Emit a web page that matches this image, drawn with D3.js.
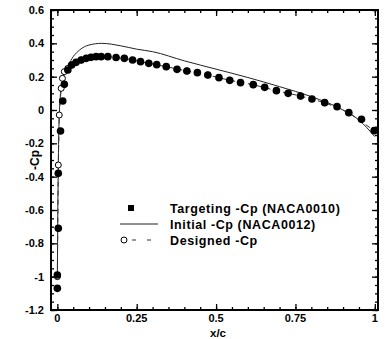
<!DOCTYPE html>
<html>
<head>
<meta charset="utf-8">
<script src="https://cdn.jsdelivr.net/npm/d3@7"></script>
<style>
  body { margin: 0; background: #fff; }
  text { font-family: "Liberation Sans", Arial, sans-serif; font-weight: bold; fill: #000; }
</style>
</head>
<body>
<div id="chart"></div>
<script>
'use strict'

// Targeting -Cp (NACA0010)
const targetX = [0.0, 0.0, 0.003, 0.003, 0.01, 0.017, 0.022, 0.033, 0.045, 0.059, 0.075, 0.091, 0.106, 0.122,
  0.138, 0.159, 0.185, 0.211, 0.237, 0.262, 0.288, 0.313, 0.343, 0.377, 0.408, 0.441, 0.474, 0.509, 0.543, 0.577,
  0.617, 0.653, 0.690, 0.727, 0.766, 0.802, 0.842, 0.881, 0.918, 0.958, 0.998];
const targetCp = [-1.07, -0.99, -0.71, -0.38, -0.126, 0.054, 0.154, 0.24, 0.27, 0.286, 0.30, 0.31, 0.316, 0.32,
  0.32, 0.32, 0.315, 0.31, 0.30, 0.29, 0.28, 0.272, 0.26, 0.244, 0.234, 0.224, 0.21, 0.194, 0.178, 0.164,
  0.152, 0.136, 0.116, 0.10, 0.084, 0.066, 0.044, 0.02, -0.016, -0.056, -0.124];

// Initial -Cp (NACA0012)
const initX = [0.0, 0.002, 0.005, 0.01, 0.02, 0.035, 0.05, 0.07, 0.1, 0.14, 0.2, 0.25, 0.3, 0.4, 0.5, 0.6, 0.7, 0.8, 0.9, 0.95, 1.0];
const initCp = [-1.0, -0.5, -0.1, 0.1, 0.2, 0.27, 0.32, 0.36, 0.39, 0.40, 0.385, 0.365, 0.35, 0.295, 0.245, 0.195, 0.14, 0.08, 0.0, -0.06, -0.16];

// Designed -Cp
const designX = [0.0, 0.003, 0.006, 0.012, 0.016, 0.022, 0.033, 0.045, 0.059, 0.075, 0.091, 0.122, 0.159, 0.211,
  0.288, 0.343, 0.408, 0.474, 0.543, 0.617, 0.690, 0.766, 0.842, 0.918, 0.998];
const designCp = [-1.0, -0.33, -0.03, 0.13, 0.19, 0.23, 0.25, 0.27, 0.286, 0.30, 0.31, 0.32, 0.32, 0.31,
  0.28, 0.26, 0.234, 0.21, 0.178, 0.152, 0.116, 0.084, 0.044, -0.016, -0.124];

const xTicks = [0, 0.25, 0.5, 0.75, 1];
const xTickLabels = ['0', '0.25', '0.5', '0.75', '1'];
const yTicks = [0.6, 0.4, 0.2, 0, -0.2, -0.4, -0.6, -0.8, -1, -1.2];
const yTickLabels = ['0.6', '0.4', '0.2', '0', '-0.2', '-0.4', '-0.6', '-0.8', '-1', '-1.2'];
const legendLabels = ['Targeting -Cp (NACA0010)', 'Initial -Cp (NACA0012)', 'Designed -Cp'];

let width = 388, height = 339;
let svg = d3.select('#chart').append('svg')
  .attr('width', width)
  .attr('height', height);

let x = d3.scaleLinear().domain([-0.02, 1.01]).range([51, 378]),
    y = d3.scaleLinear().domain([-1.2, 0.6]).range([310, 10]);

let target = targetX.map((d, i) => ({k: d, v: targetCp[i]})),
    init = initX.map((d, i) => ({k: d, v: initCp[i]})),
    design = designX.map((d, i) => ({k: d, v: designCp[i]}));

let line = d3.line()
  .curve(d3.curveMonotoneX)
  .x(d => x(d.k))
  .y(d => y(d.v));
let lineLin = d3.line()
  .x(d => x(d.k))
  .y(d => y(d.v));

// minor ticks
let xMinor = d3.range(0, 1.0001, 0.05),
    yMinor = d3.range(-1.2, 0.6001, 0.05);

// axes (ticks inward on all four sides)
svg.append('g')
  .attr('transform', 'translate(0,310)')
  .call(d3.axisTop(x).tickValues(xMinor).tickSize(3).tickFormat(''));
svg.append('g')
  .attr('transform', 'translate(0,310)')
  .call(d3.axisTop(x).tickValues(xTicks).tickSize(6).tickFormat(''));
svg.append('g')
  .attr('transform', 'translate(0,10)')
  .call(d3.axisBottom(x).tickValues(xMinor).tickSize(3).tickFormat(''));
svg.append('g')
  .attr('transform', 'translate(0,10)')
  .call(d3.axisBottom(x).tickValues(xTicks).tickSize(6).tickFormat(''));
svg.append('g')
  .attr('transform', 'translate(51,0)')
  .call(d3.axisRight(y).tickValues(yMinor).tickSize(3).tickFormat(''));
svg.append('g')
  .attr('transform', 'translate(51,0)')
  .call(d3.axisRight(y).tickValues(yTicks).tickSize(6).tickFormat(''));
svg.append('g')
  .attr('transform', 'translate(378,0)')
  .call(d3.axisLeft(y).tickValues(yMinor).tickSize(3).tickFormat(''));
svg.append('g')
  .attr('transform', 'translate(378,0)')
  .call(d3.axisLeft(y).tickValues(yTicks).tickSize(6).tickFormat(''));
svg.selectAll('.domain').remove();
svg.selectAll('.tick line').attr('stroke', '#000').attr('stroke-width', 1.3);

svg.append('rect')
  .attr('x', 51).attr('y', 10)
  .attr('width', 327).attr('height', 300)
  .attr('fill', 'none')
  .attr('stroke', '#000')
  .attr('stroke-width', 2);

// tick labels
svg.append('g').selectAll('text')
  .data(xTicks)
  .enter().append('text')
  .attr('x', d => x(d))
  .attr('y', 322)
  .attr('text-anchor', 'middle')
  .attr('font-size', 11)
  .text((d, i) => xTickLabels[i]);
svg.append('g').selectAll('text')
  .data(yTicks)
  .enter().append('text')
  .attr('x', 44)
  .attr('y', d => y(d) + 4)
  .attr('text-anchor', 'end')
  .attr('font-size', 11)
  .text((d, i) => yTickLabels[i]);

svg.append('text')
  .attr('x', 218).attr('y', 337)
  .attr('text-anchor', 'middle')
  .attr('font-size', 11.5)
  .text('x/c');
svg.append('text')
  .attr('transform', 'translate(39,160) rotate(-90)')
  .attr('text-anchor', 'middle')
  .attr('font-size', 12)
  .text('-Cp');

// series
svg.append('path')
  .datum(init)
  .attr('d', line)
  .attr('fill', 'none')
  .attr('stroke', '#222')
  .attr('stroke-width', 1);

svg.append('path')
  .datum(design)
  .attr('d', lineLin)
  .attr('fill', 'none')
  .attr('stroke', '#333')
  .attr('stroke-width', 1)
  .attr('stroke-dasharray', '5,4');
svg.append('g').selectAll('circle')
  .data(design)
  .enter().append('circle')
  .attr('cx', d => x(d.k))
  .attr('cy', d => y(d.v))
  .attr('r', 3)
  .attr('fill', '#fff')
  .attr('stroke', '#000')
  .attr('stroke-width', 1);

svg.append('g').selectAll('circle')
  .data(target)
  .enter().append('circle')
  .attr('cx', d => x(d.k))
  .attr('cy', d => y(d.v))
  .attr('r', 3.8)
  .attr('fill', '#000');

// legend
let lg = svg.append('g');
lg.append('rect')
  .attr('x', 128).attr('y', 205)
  .attr('width', 6).attr('height', 6)
  .attr('fill', '#000');
lg.append('line')
  .attr('x1', 120).attr('x2', 158)
  .attr('y1', 224).attr('y2', 224)
  .attr('stroke', '#222').attr('stroke-width', 1);
lg.append('line')
  .attr('x1', 124).attr('x2', 152)
  .attr('y1', 240).attr('y2', 240)
  .attr('stroke', '#333').attr('stroke-width', 1)
  .attr('stroke-dasharray', '0,8,4,11,4,20');
lg.append('circle')
  .attr('cx', 124).attr('cy', 240).attr('r', 3)
  .attr('fill', '#fff').attr('stroke', '#000');
lg.selectAll('.lt')
  .data(legendLabels)
  .enter().append('text')
  .attr('x', 170)
  .attr('y', (d, i) => 213 + i * 16)
  .attr('font-size', 12.5)
  .attr('letter-spacing', 0.6)
  .text(d => d);
</script>
</body>
</html>
